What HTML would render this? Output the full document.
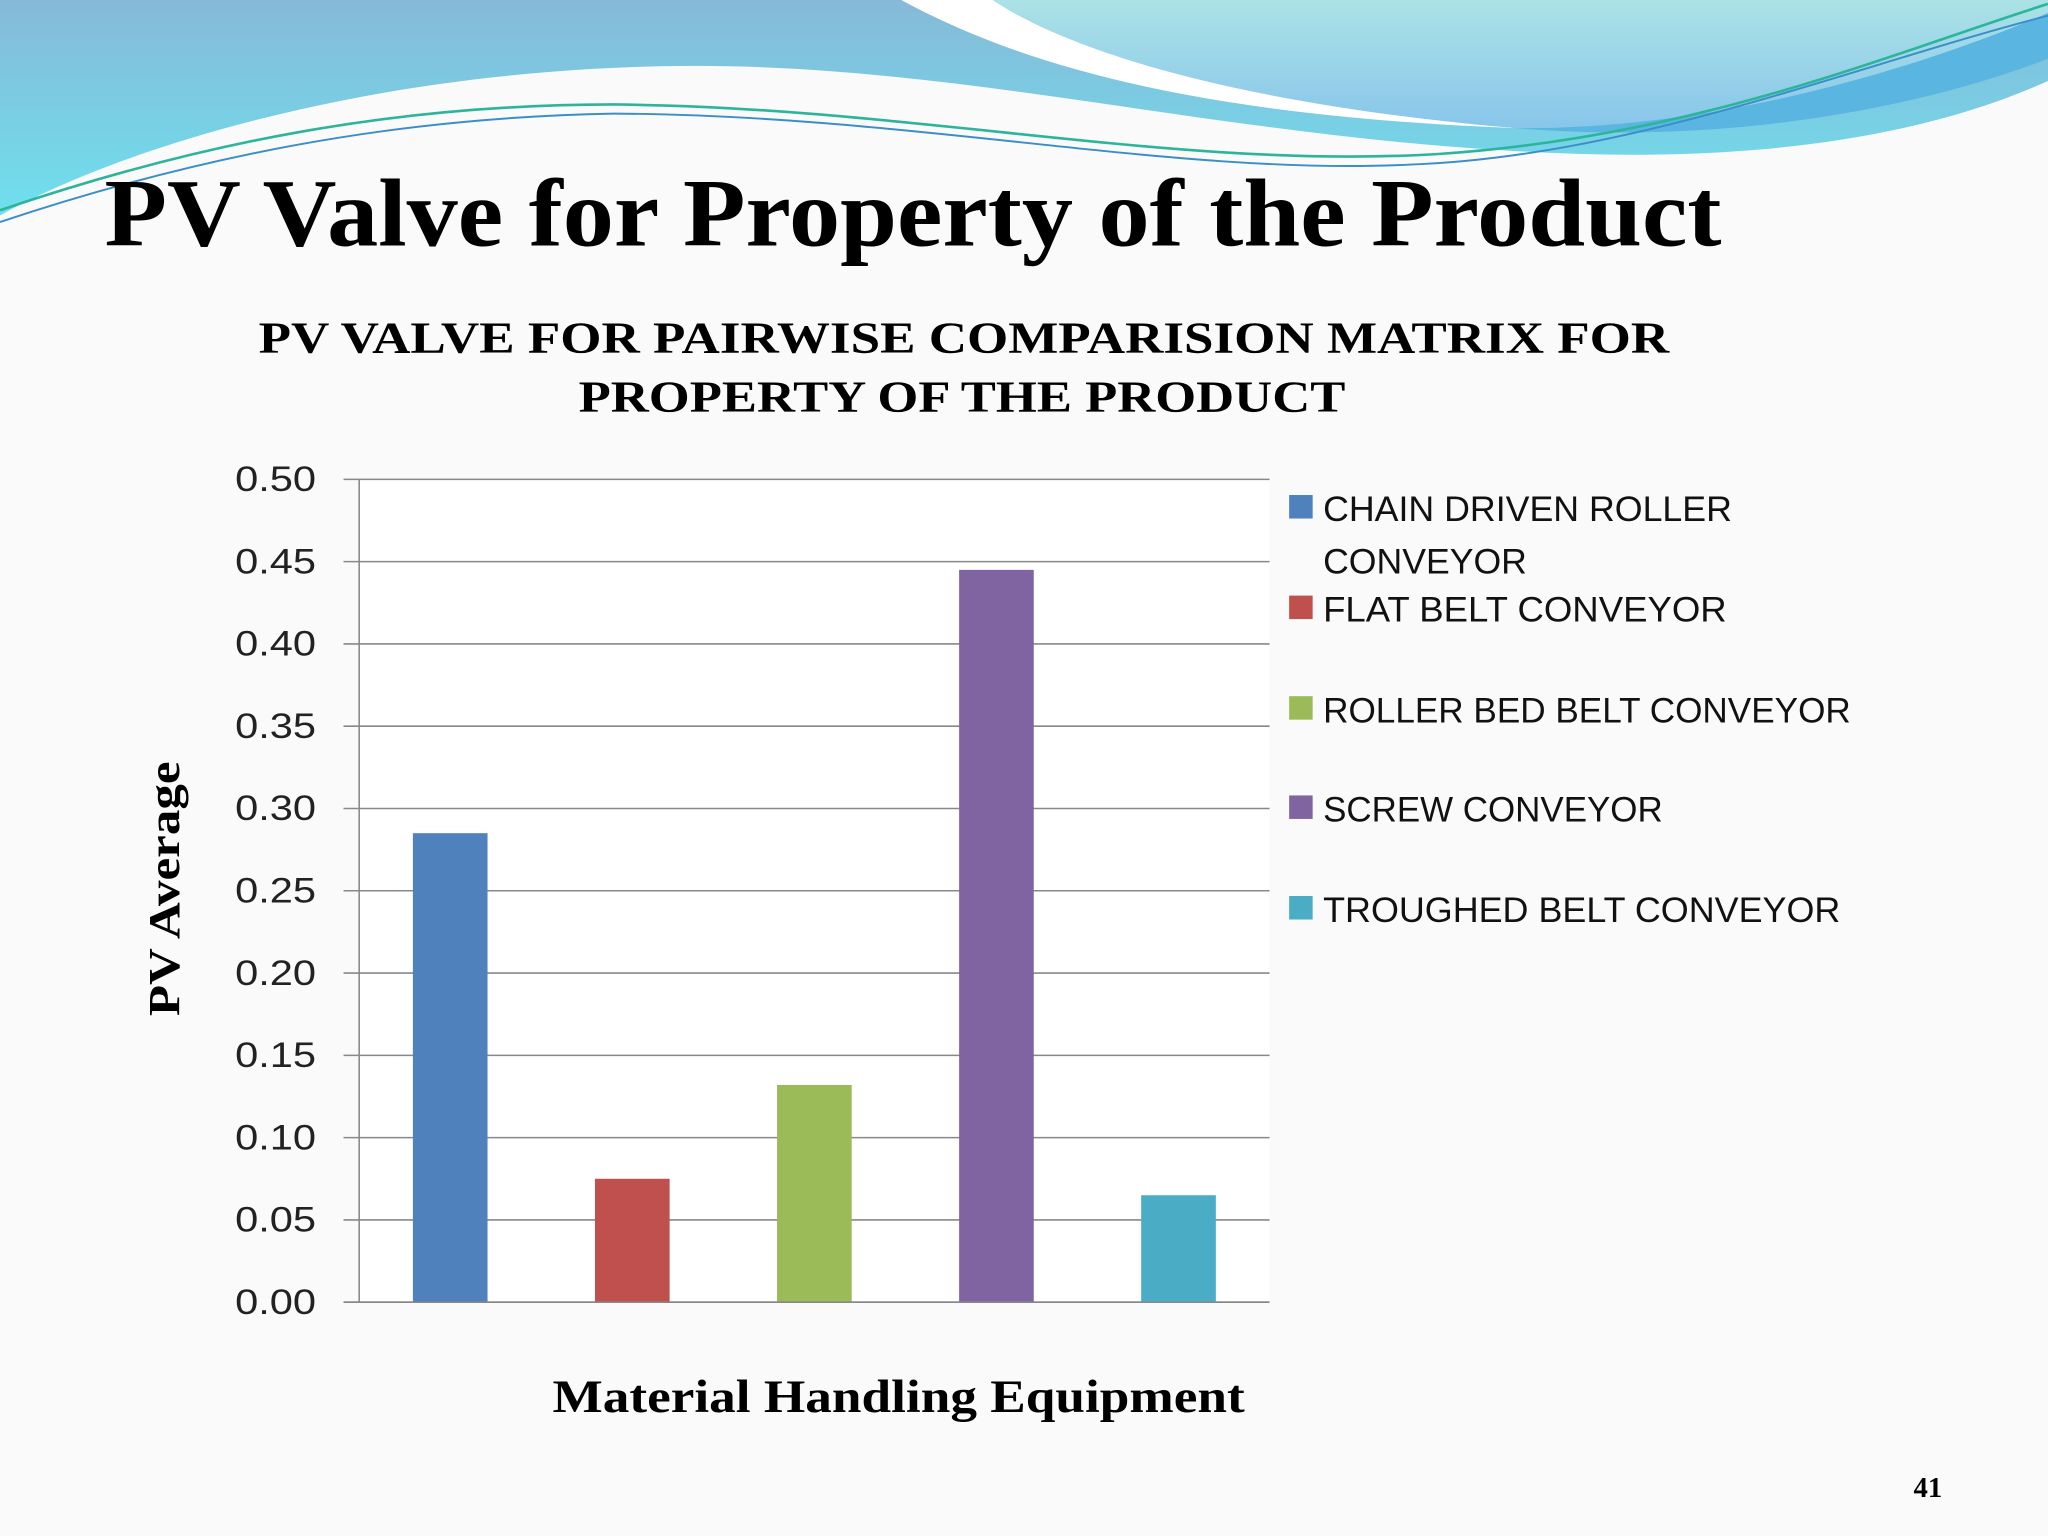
<!DOCTYPE html>
<html><head><meta charset="utf-8"><style>
html,body{margin:0;padding:0;background:#fafafa}
svg{display:block}
</style></head><body>
<svg width="2048" height="1536" viewBox="0 0 1568 1176" xmlns="http://www.w3.org/2000/svg">
<defs>
<linearGradient id="gl" x1="0" y1="0" x2="0" y2="1"><stop offset="0" stop-color="#86b9d8"/><stop offset="1" stop-color="#6fe0ee"/></linearGradient>
<linearGradient id="gr" x1="0" y1="0" x2="0" y2="1"><stop offset="0" stop-color="#abe2e6"/><stop offset="1" stop-color="#88c6ea"/></linearGradient>
</defs>
<rect width="1568" height="1176" fill="#fafafa"/>
<g>
<path d="M0,0 H1568 V62 C1450,115 1300,125 1150,115 C900,100 700,40 470,52 C250,62 80,120 0,165 Z" fill="url(#gl)"/>
<path d="M690,0 C800,60 950,90 1160,98 C950,80 820,40 760,0 Z" fill="#ffffff"/>
<path d="M760,0 C820,40 950,80 1160,98 C1300,100 1450,60 1568,30 V0 Z" fill="url(#gr)"/>
<path d="M1160,98 C1300,100 1450,60 1568,10 V45 C1450,90 1300,110 1160,98 Z" fill="#5ab6e0"/>
<path d="M0,161 C150,110 300,80 470,80 C700,82 900,130 1100,118 C1300,105 1450,40 1568,3" fill="none" stroke="#2cb59a" stroke-width="2"/>
<path d="M0,170 C150,120 300,90 470,87 C700,88 900,135 1080,126 C1250,120 1420,50 1568,12" fill="none" stroke="#3a8fc8" stroke-width="1.5"/>
</g>
<text x="80" y="188" textLength="1238" lengthAdjust="spacingAndGlyphs" font-family="Liberation Serif, serif" font-weight="bold" font-size="74">PV Valve for Property of the Product</text>
<text x="198" y="270" textLength="1080" lengthAdjust="spacingAndGlyphs" font-family="Liberation Serif, serif" font-weight="bold" font-size="34">PV VALVE FOR PAIRWISE COMPARISION MATRIX FOR</text>
<text x="443" y="315" textLength="587" lengthAdjust="spacingAndGlyphs" font-family="Liberation Serif, serif" font-weight="bold" font-size="34">PROPERTY OF THE PRODUCT</text>
<rect x="275" y="367" width="697" height="630" fill="#ffffff"/>
<g id="grid"></g><g id="bars"></g><g id="ticks"></g><g id="legend"></g>
<line x1="275" y1="367" x2="275" y2="997" stroke="#888" stroke-width="1.2"/>
<line x1="263" y1="997" x2="972" y2="997" stroke="#888" stroke-width="1.2"/>
<text transform="translate(137,778) rotate(-90)" textLength="195" lengthAdjust="spacingAndGlyphs" font-family="Liberation Serif, serif" font-weight="bold" font-size="34">PV Average</text>
<text x="423" y="1081" textLength="530" lengthAdjust="spacingAndGlyphs" font-family="Liberation Serif, serif" font-weight="bold" font-size="36">Material Handling Equipment</text>
<text x="1476" y="1146" text-anchor="middle" font-family="Liberation Serif, serif" font-weight="bold" font-size="22">41</text>
</svg>
<script>
const categories=["CHAIN DRIVEN ROLLER CONVEYOR","FLAT BELT  CONVEYOR","ROLLER BED BELT CONVEYOR","SCREW CONVEYOR","TROUGHED BELT CONVEYOR"];
const values=[0.285,0.075,0.132,0.445,0.065];
const colors=["#4f81bd","#c0504d","#9bbb59","#8064a2","#4bacc6"];
const tickValues=[0,0.05,0.1,0.15,0.2,0.25,0.3,0.35,0.4,0.45,0.5];
const tickLabels=["0.00","0.05","0.10","0.15","0.20","0.25","0.30","0.35","0.40","0.45","0.50"];
const NS="http://www.w3.org/2000/svg";
const X0=275,X1=972,Y0=997,Y1=367,VMAX=0.5;
const y=v=>Y0-(v/VMAX)*(Y0-Y1);
const bw=(X1-X0)/categories.length;
const x=i=>X0+bw*i+bw/2;
function mk(t,a){const e=document.createElementNS(NS,t);for(const k in a)e.setAttribute(k,a[k]);return e;}
const G=document.getElementById('grid'),B=document.getElementById('bars'),T=document.getElementById('ticks'),L=document.getElementById('legend');
tickValues.forEach((v,i)=>{
 const l=mk('line',{x1:263,x2:X1,y1:y(v),y2:y(v),stroke:'#888','stroke-width':1.2});
 
 
 G.appendChild(l);
 const t=mk('text',{x:242,y:y(v)+9,'text-anchor':'end',textLength:62,lengthAdjust:'spacingAndGlyphs','font-family':'Liberation Sans, sans-serif','font-size':27,fill:'#222'});
 t.textContent=tickLabels[i];
 
 
 T.appendChild(t);
});
values.forEach((v,i)=>{
 const w=bw*0.41;
 const r=mk('rect',{x:x(i)-w/2,y:y(v),width:w,height:Y0-y(v),fill:colors[i]});
 
 
 B.appendChild(r);
});
const legY=[389,466,543,619,696];
const legW=[[313,156],[309],[404],[260],[396]];
categories.forEach((c,i)=>{
 const s=mk('rect',{x:987,y:legY[i]-10,width:18,height:18,fill:colors[i]});
 
 
 L.appendChild(s);
 const lines=i===0?["CHAIN DRIVEN ROLLER","CONVEYOR"]:[c];
 lines.forEach((ln,j)=>{
  const t=mk('text',{x:1013,y:legY[i]+10+j*40,textLength:legW[i][j],lengthAdjust:'spacingAndGlyphs','font-family':'Liberation Sans, sans-serif','font-size':27,fill:'#111','xml:space':'preserve'});
  t.textContent=ln;
  
  
  L.appendChild(t);
 });
});
</script>
</body></html>
